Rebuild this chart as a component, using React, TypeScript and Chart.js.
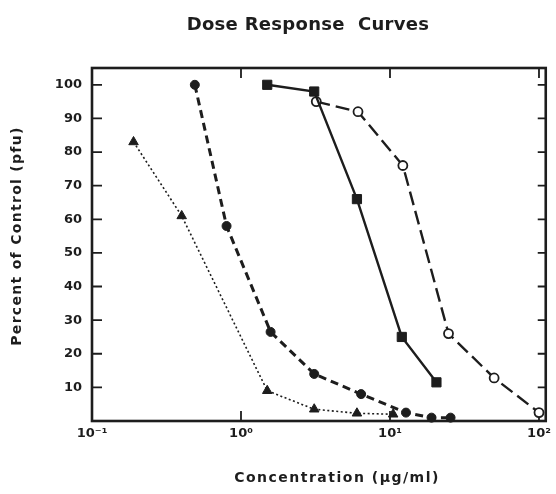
import { useEffect, useRef } from "react";
import { Chart, registerables } from "chart.js";

Chart.register(...registerables);

// ---- data ----
const triangleX = [0.19, 0.4, 1.5, 3.1, 6.0, 10.5];
const triangleY = [83, 61, 9, 3.5, 2.3, 2.0];

const circleX = [0.49, 0.8, 1.58, 3.1, 6.4, 12.8, 19, 25.5];
const circleY = [100, 58, 26.5, 14, 8, 2.5, 1, 1];

const squareX = [1.5, 3.1, 6.0, 12.0, 20.5];
const squareY = [100, 98, 66, 25, 11.5];

const openCircleX = [3.2, 6.1, 12.2, 24.7, 50, 100];
const openCircleY = [95, 92, 76, 26, 12.8, 2.5];

const X_TICKS = [0.1, 1, 10, 100];
const X_TICK_LABELS = ["10\u207B\u00B9", "10\u2070", "10\u00B9", "10\u00B2"];
const Y_TICKS = [10, 20, 30, 40, 50, 60, 70, 80, 90, 100];

const TITLE = "Dose Response  Curves";
const X_TITLE = "Concentration (\u03BCg/ml)";
const Y_TITLE = "Percent of Control (pfu)";

const INK = "#1d1d1d";
const FONT = "'DejaVu Sans', sans-serif";

export default function App() {
  const ref = useRef<HTMLCanvasElement>(null);

  useEffect(() => {
    const canvas = ref.current;
    if (!canvas) return;
    const pts = (xs: number[], ys: number[]) => xs.map((x, i) => ({ x, y: ys[i] }));

    const framePlugin = {
      id: "frame",
      beforeDatasetsDraw(chart: any) {
        const { ctx, chartArea: a } = chart;
        const xs = chart.scales.x;
        const ys = chart.scales.y;
        ctx.save();
        ctx.strokeStyle = INK;
        ctx.lineWidth = 2.6;
        ctx.strokeRect(a.left, a.top, a.right - a.left, a.bottom - a.top);
        ctx.lineWidth = 1.8;
        ctx.beginPath();
        for (const v of Y_TICKS) {
          const y = ys.getPixelForValue(v);
          ctx.moveTo(a.left, y);
          ctx.lineTo(a.left + 10, y);
          ctx.moveTo(a.right, y);
          ctx.lineTo(a.right - 8, y);
        }
        for (const v of X_TICKS) {
          const x = xs.getPixelForValue(v);
          ctx.moveTo(x, a.bottom);
          ctx.lineTo(x, a.bottom - 10);
          ctx.moveTo(x, a.top);
          ctx.lineTo(x, a.top + 10);
        }
        ctx.stroke();
        ctx.restore();
      },
      afterDraw(chart: any) {
        const { ctx } = chart;
        ctx.save();
        ctx.fillStyle = INK;
        ctx.textAlign = "center";
        ctx.textBaseline = "middle";
        ctx.font = `bold 18px ${FONT}`;
        (ctx as any).letterSpacing = "0.3px";
        ctx.fillText(TITLE, 308, 25);
        ctx.font = `bold 14px ${FONT}`;
        (ctx as any).letterSpacing = "1.5px";
        ctx.fillText(X_TITLE, 337, 478);
        (ctx as any).letterSpacing = "1.3px";
        ctx.translate(17, 236);
        ctx.rotate(-Math.PI / 2);
        ctx.fillText(Y_TITLE, 0, 0);
        ctx.restore();
      },
    };

    const chart = new Chart(canvas, {
      type: "scatter",
      data: {
        datasets: [
          {
            data: pts(triangleX, triangleY),
            showLine: true,
            borderColor: INK,
            borderWidth: 1.6,
            borderDash: [2, 2.5],
            pointStyle: "triangle",
            pointRadius: 5.5,
            pointBackgroundColor: INK,
            pointBorderColor: INK,
            pointBorderWidth: 1,
            clip: false,
          },
          {
            data: pts(circleX, circleY),
            showLine: true,
            borderColor: INK,
            borderWidth: 3,
            borderDash: [8, 5],
            pointStyle: "circle",
            pointRadius: 4.5,
            pointBackgroundColor: INK,
            pointBorderColor: INK,
            pointBorderWidth: 1,
            clip: false,
          },
          {
            data: pts(squareX, squareY),
            showLine: true,
            borderColor: INK,
            borderWidth: 2.4,
            pointStyle: "rect",
            pointRadius: 6.5,
            pointBackgroundColor: INK,
            pointBorderColor: INK,
            pointBorderWidth: 1,
            clip: false,
          },
          {
            data: pts(openCircleX, openCircleY),
            showLine: true,
            borderColor: INK,
            borderWidth: 2.4,
            borderDash: [14, 6],
            pointStyle: "circle",
            pointRadius: 4.5,
            pointBackgroundColor: "#ffffff",
            pointBorderColor: INK,
            pointBorderWidth: 1.8,
            clip: false,
          },
        ],
      },
      options: {
        animation: false,
        responsive: false,
        layout: { padding: { top: 68, right: 8, left: 0, bottom: 0 } },
        plugins: {
          legend: { display: false },
          title: { display: false },
          tooltip: { enabled: false },
        },
        scales: {
          x: {
            type: "logarithmic",
            min: 0.1,
            max: 111,
            grid: { display: false, drawTicks: false },
            border: { display: false },
            afterBuildTicks: (s: any) => {
              s.ticks = X_TICKS.map((v) => ({ value: v }));
            },
            afterFit: (s: any) => {
              s.height = 73;
            },
            ticks: {
              padding: 5,
              color: INK,
              autoSkip: false,
              maxRotation: 0,
              font: { family: FONT, size: 13, weight: "bold" },
              callback: (v: any) => {
                const i = X_TICKS.indexOf(Number(v));
                return i >= 0 ? X_TICK_LABELS[i] : "";
              },
            },
          },
          y: {
            min: 0,
            max: 105,
            grid: { display: false, drawTicks: false },
            border: { display: false },
            afterBuildTicks: (s: any) => {
              s.ticks = Y_TICKS.map((v) => ({ value: v }));
            },
            afterFit: (s: any) => {
              s.width = 92;
            },
            ticks: {
              padding: 10,
              color: INK,
              font: { family: FONT, size: 13, weight: "bold" },
            },
          },
        },
      } as any,
      plugins: [framePlugin],
    });

    return () => chart.destroy();
  }, []);

  return (
    <div style={{ position: "absolute", left: 0, top: 0, width: 556, height: 494, background: "#fff" }}>
      <canvas ref={ref} width={556} height={494} style={{ display: "block" }} />
    </div>
  );
}
